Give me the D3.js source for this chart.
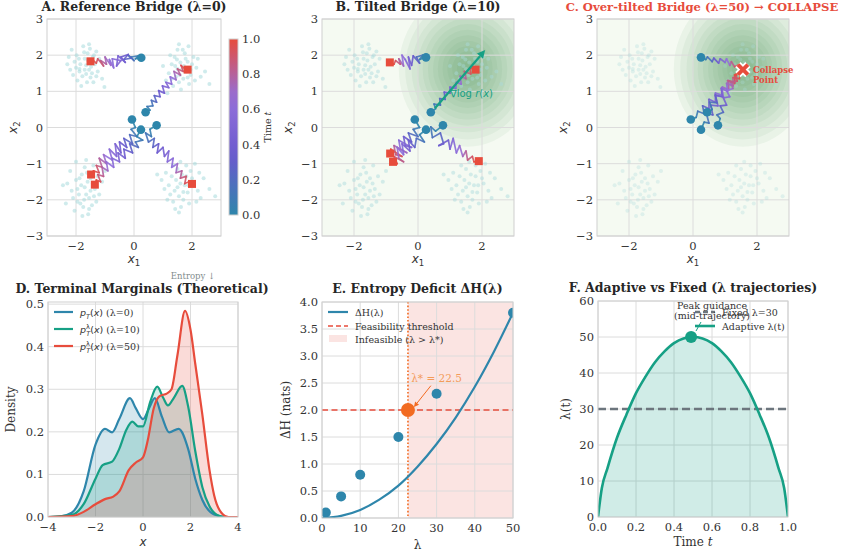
<!DOCTYPE html>
<html>
<head>
<meta charset="utf-8">
<script src="https://cdn.jsdelivr.net/npm/d3@7"></script>
<style>
  html, body { margin: 0; padding: 0; background: #fff; }
  text { fill: #333; }
</style>
</head>
<body>
<script>
//----- DATA ---------------------------------------------//
var clusterTL = [[-1.65,1.72],[-1.42,1.95],[-1.88,1.55],[-1.5,1.38],[-2.05,1.82],[-1.3,2.1],[-1.75,2.25],[-1.95,1.3],[-1.55,1.6],[-1.7,1.9],[-2.2,1.6],[-1.35,1.75],[-1.6,2.05],[-1.85,1.75],[-1.45,1.5],[-2.1,1.45],[-1.25,1.55],[-1.78,1.42],[-1.62,1.25],[-1.98,2.0],[-1.52,2.18],[-1.2,1.9],[-2.3,1.75],[-1.7,1.6],[-1.4,1.25],[-1.9,1.9],[-1.58,1.85],[-1.1,1.35],[-2.15,2.15],[-1.82,1.15],[-1.48,1.68],[-1.65,1.48],[-1.3,1.42],[-2.0,1.65],[-1.55,2.3],[-1.02,1.12],[-1.72,2.08],[-1.88,1.62],[-1.38,2.0],[-2.25,1.95]];
var clusterTR = [[1.65,1.6],[1.85,1.82],[1.45,1.4],[1.95,1.45],[1.3,1.75],[1.75,2.05],[1.55,1.25],[2.15,1.65],[1.4,1.95],[1.7,1.35],[2.05,1.95],[1.2,1.5],[1.6,1.8],[1.9,1.2],[1.5,2.15],[2.3,1.4],[1.35,1.15],[1.8,1.55],[1.58,1.45],[2.0,1.75],[1.25,2.0],[1.72,1.7],[2.45,1.55],[1.1,1.3],[1.5,1.62],[1.88,2.25],[1.62,1.05],[2.2,1.9],[1.42,1.7],[1.95,1.6],[1.0,1.7],[1.78,1.9],[2.6,1.2],[1.55,2.3],[1.3,1.35],[2.1,1.3],[1.68,2.15],[1.15,0.95],[1.85,1.38],[1.48,1.88]];
var clusterBL = [[-1.7,-1.65],[-1.5,-1.4],[-1.9,-1.85],[-1.55,-1.95],[-2.0,-1.45],[-1.35,-1.7],[-1.75,-2.2],[-1.8,-1.3],[-2.15,-1.75],[-1.6,-1.5],[-1.25,-1.35],[-1.95,-2.05],[-1.45,-2.15],[-1.7,-1.1],[-2.3,-1.55],[-1.65,-1.85],[-1.4,-1.05],[-2.05,-2.3],[-1.82,-1.6],[-1.58,-2.4],[-1.2,-1.85],[-2.2,-1.2],[-1.72,-2.0],[-1.5,-1.75],[-1.88,-1.4],[-2.45,-1.6],[-1.3,-2.05],[-1.62,-1.25],[-1.95,-1.7],[-1.1,-1.5],[-1.78,-2.45],[-2.1,-1.95],[-1.42,-1.55],[-1.65,-0.9],[-2.0,-0.95],[-1.55,-2.25],[-1.85,-2.1],[-1.0,-1.2],[-2.35,-2.1],[-1.38,-1.9]];
var clusterBR = [[1.6,-1.55],[1.8,-1.35],[1.4,-1.75],[1.85,-1.8],[1.3,-1.35],[1.7,-2.0],[2.05,-1.55],[1.5,-1.15],[1.2,-1.6],[1.95,-1.2],[1.55,-1.9],[2.2,-1.75],[1.35,-2.05],[1.75,-1.6],[1.1,-1.25],[2.4,-1.4],[1.65,-1.3],[1.9,-2.1],[1.45,-1.45],[2.1,-1.0],[1.25,-1.85],[1.62,-2.2],[2.3,-1.95],[0.95,-1.45],[1.8,-1.05],[1.5,-1.65],[2.0,-1.4],[1.35,-1.05],[2.6,-1.7],[1.7,-1.78],[1.05,-1.7],[1.88,-1.6],[2.15,-2.05],[1.42,-2.25],[2.8,-1.9],[1.6,-0.95],[1.15,-2.0],[2.25,-1.25],[1.55,-2.35],[0.8,-1.3]];

var trajA = [
  [[0.25,1.93],[0.05,1.9],[0.15,1.98],[-0.1,1.95],[0.0,1.85],[-0.2,2.0],[-0.1,1.92],[-0.35,1.88],[-0.2,2.02],[-0.45,1.95],[-0.3,1.8],[-0.55,1.98],[-0.6,1.7],[-0.45,1.85],[-0.75,1.9],[-0.7,1.65],[-0.85,1.88],[-0.8,1.72],[-1.0,1.95],[-0.95,1.75],[-1.15,1.85],[-1.05,1.7],[-1.25,1.9],[-1.3,1.78],[-1.4,1.85],[-1.5,1.83]],
  [[0.4,0.42],[0.55,0.48],[0.45,0.58],[0.65,0.6],[0.6,0.75],[0.78,0.7],[0.7,0.88],[0.9,0.85],[0.85,1.02],[1.05,0.95],[0.98,1.15],[1.2,1.1],[1.1,1.25],[1.3,1.2],[1.25,1.4],[1.45,1.32],[1.38,1.55],[1.6,1.45],[1.5,1.62],[1.7,1.55],[1.62,1.72],[1.78,1.6],[1.85,1.6]],
  [[-0.07,0.22],[0.05,0.0],[-0.1,-0.05],[0.1,-0.25],[-0.15,-0.2],[-0.05,-0.45],[-0.35,-0.3],[-0.25,-0.55],[-0.5,-0.4],[-0.45,-0.7],[-0.65,-0.45],[-0.6,-0.8],[-0.85,-0.6],[-0.75,-0.9],[-1.05,-0.75],[-0.95,-1.0],[-1.2,-0.85],[-1.1,-1.1],[-1.3,-1.05],[-1.2,-1.25],[-1.4,-1.2],[-1.48,-1.3]],
  [[0.24,-0.06],[0.1,-0.25],[0.3,-0.35],[0.05,-0.4],[0.15,-0.55],[-0.15,-0.45],[-0.05,-0.7],[-0.35,-0.6],[-0.3,-0.85],[-0.55,-0.7],[-0.5,-0.95],[-0.75,-0.85],[-0.7,-1.1],[-0.95,-0.95],[-0.9,-1.2],[-1.1,-1.1],[-1.05,-1.35],[-1.25,-1.3],[-1.15,-1.5],[-1.3,-1.45],[-1.35,-1.58]],
  [[0.78,0.06],[0.55,-0.05],[0.6,-0.25],[0.4,-0.15],[0.5,-0.4],[0.7,-0.3],[0.65,-0.55],[0.85,-0.45],[0.8,-0.7],[1.0,-0.55],[1.05,-0.8],[1.2,-0.65],[1.15,-0.95],[1.35,-0.85],[1.3,-1.1],[1.5,-1.0],[1.45,-1.25],[1.65,-1.2],[1.6,-1.4],[1.8,-1.35],[1.75,-1.55],[1.9,-1.5],[2.0,-1.56]]
];
var trajB = [
  [[0.25,1.94],[0.05,1.88],[0.15,2.0],[-0.05,1.95],[0.05,1.78],[-0.15,1.98],[-0.2,1.72],[-0.3,1.95],[-0.25,1.62],[-0.4,1.88],[-0.5,2.0],[-0.45,1.7],[-0.6,1.9],[-0.55,1.75],[-0.7,1.85],[-0.75,1.75],[-0.88,1.8]],
  [[0.4,0.42],[0.55,0.52],[0.5,0.65],[0.7,0.62],[0.68,0.8],[0.85,0.78],[0.82,0.98],[1.0,0.95],[1.0,1.12],[1.18,1.08],[1.2,1.25],[1.35,1.2],[1.32,1.42],[1.5,1.35],[1.45,1.55],[1.65,1.48],[1.62,1.65],[1.8,1.6]],
  [[-0.1,0.22],[0.05,0.0],[-0.15,-0.05],[0.0,-0.25],[-0.3,-0.15],[-0.2,-0.4],[-0.45,-0.25],[-0.4,-0.5],[-0.2,-0.55],[-0.6,-0.35],[-0.55,-0.6],[-0.35,-0.7],[-0.75,-0.5],[-0.7,-0.75],[-0.5,-0.8],[-0.85,-0.6],[-0.87,-0.72]],
  [[0.25,-0.06],[0.05,-0.2],[0.2,-0.4],[-0.05,-0.3],[-0.1,-0.55],[-0.3,-0.35],[-0.25,-0.65],[-0.5,-0.45],[-0.45,-0.75],[-0.65,-0.55],[-0.6,-0.85],[-0.45,-0.95],[-0.75,-0.8],[-0.65,-1.0],[-0.78,-0.95]],
  [[0.78,0.06],[0.55,-0.1],[0.4,0.02],[0.45,-0.28],[0.7,-0.15],[0.8,-0.45],[0.65,-0.5],[0.95,-0.35],[1.0,-0.6],[1.1,-0.3],[1.2,-0.7],[1.3,-0.5],[1.4,-0.8],[1.5,-0.65],[1.55,-0.9],[1.7,-0.8],[1.75,-0.95],[1.9,-0.93]]
];
var trajC = [
  [[0.25,1.94],[0.4,1.88],[0.45,1.95],[0.6,1.82],[0.65,1.92],[0.8,1.78],[0.85,1.9],[1.0,1.8],[1.05,1.9],[1.15,1.72],[1.2,1.82],[1.3,1.68],[1.4,1.72],[1.5,1.6]],
  [[-0.07,0.22],[0.1,0.28],[0.15,0.45],[0.35,0.38],[0.3,0.6],[0.5,0.52],[0.5,0.78],[0.7,0.7],[0.7,0.95],[0.9,0.9],[0.92,1.12],[1.1,1.05],[1.12,1.3],[1.3,1.25],[1.32,1.45],[1.5,1.55]],
  [[0.25,-0.06],[0.35,0.15],[0.5,0.12],[0.42,0.38],[0.62,0.35],[0.55,0.62],[0.78,0.6],[0.7,0.88],[0.95,0.85],[0.9,1.1],[1.12,1.05],[1.08,1.3],[1.3,1.22],[1.3,1.45],[1.5,1.55]],
  [[0.44,0.42],[0.6,0.5],[0.52,0.7],[0.75,0.68],[0.7,0.9],[0.92,0.85],[0.88,1.08],[1.08,1.0],[1.05,1.22],[1.25,1.15],[1.25,1.38],[1.45,1.35],[1.5,1.55]],
  [[0.78,0.06],[0.85,0.25],[0.75,0.35],[0.95,0.42],[0.85,0.6],[1.05,0.62],[0.95,0.82],[1.15,0.85],[1.05,1.02],[1.25,1.08],[1.18,1.25],[1.38,1.28],[1.35,1.45],[1.5,1.55]]
];
var rewardCenter = [1.55, 1.62];
var rewardRadii = [2.15, 1.95, 1.75, 1.57, 1.4, 1.24, 1.08, 0.93, 0.78, 0.63, 0.48, 0.33, 0.18];
var gradArrow = [[0.53, 0.53], [2.1, 2.14]];
var collapsePoint = [1.56, 1.6];

// panel D: terminal marginals
var densBlue = [[-4,0],[-3.5,0.001],[-3,0.01],[-2.5,0.06],[-2,0.17],[-1.6,0.207],[-1.3,0.199],[-1,0.23],[-0.55,0.279],[-0.3,0.255],[0,0.23],[0.25,0.255],[0.5,0.279],[0.8,0.235],[1.1,0.199],[1.5,0.207],[1.9,0.16],[2.2,0.09],[2.5,0.04],[3,0.006],[3.5,0],[4,0]];
var densGreen = [[-4,0],[-3,0.005],[-2.5,0.03],[-2,0.09],[-1.7,0.122],[-1.3,0.13],[-1,0.16],[-0.7,0.205],[-0.45,0.224],[-0.2,0.213],[0,0.213],[0.3,0.27],[0.6,0.306],[0.85,0.28],[1.05,0.262],[1.3,0.28],[1.65,0.308],[1.9,0.26],[2.2,0.155],[2.5,0.07],[2.8,0.025],[3.2,0.003],[3.5,0],[4,0]];
var densRed = [[-4,0],[-3,0.002],[-2.5,0.012],[-2,0.03],[-1.6,0.042],[-1.25,0.048],[-1,0.06],[-0.6,0.11],[-0.3,0.128],[0,0.14],[0.2,0.18],[0.45,0.255],[0.7,0.284],[1.0,0.29],[1.2,0.3],[1.45,0.38],[1.77,0.484],[2.0,0.44],[2.2,0.36],[2.5,0.24],[2.8,0.11],[3.0,0.05],[3.3,0.01],[3.6,0],[4,0]];

// panel E: entropy deficit
var lambdaGrid = [0, 5, 10, 15, 20, 25, 30, 35, 40, 45, 50];
var deltaHCurve = [0, 0.04, 0.15, 0.34, 0.6, 0.95, 1.37, 1.86, 2.43, 3.08, 3.8];
var lambdaSamples = [1, 5, 10, 20, 30, 50];
var deltaHSamples = [0.1, 0.4, 0.8, 1.5, 2.3, 3.8];
var lambdaStar = 22.5;
var threshold = 2.0;

// panel F: adaptive vs fixed
var timeGrid = [0, 0.02, 0.05, 0.1, 0.15, 0.2, 0.25, 0.3, 0.35, 0.4, 0.45, 0.5, 0.55, 0.6, 0.65, 0.7, 0.75, 0.8, 0.85, 0.9, 0.95, 0.98, 1];
var lambdaAdaptive = [0, 8, 13.6, 22, 28.5, 34.4, 39, 43, 46, 48.3, 49.6, 50, 49.6, 48.3, 46, 43, 39, 34.4, 28.5, 22, 13.6, 8, 0];
var lambdaFixed = 30;
var peakPoint = [0.49, 50];

//----- SETTINGS -----------------------------------------//
var W = 842, H = 554,
    SERIF = '"DejaVu Serif", serif',
    SANS = '"DejaVu Sans", sans-serif',
    BLUE = '#2E86AB', TEAL = '#16A085', RED = '#E74C3C', ORANGE = '#F26B21',
    GRID = '#dcdcdc', SPINE = '#cfcfcf', DOT = '#a8dadc',
    TICK_SIZE = 11.5, TITLE_SIZE = 12.5;

var cmap = d3.scaleLinear()
    .domain([0, 1/3, 2/3, 1])
    .range(['#2E86AB', '#6A5ACD', '#9370DB', '#E74C3C']);

var svg = d3.select('body').append('svg')
    .attr('width', W).attr('height', H)
    .style('font-family', SERIF);
svg.append('rect').attr('width', W).attr('height', H).attr('fill', '#fff');

var defs = svg.append('defs');

//----- GENERIC AXES -------------------------------------//
function makeAxes(id, box, xdom, ydom, xticks, yticks, fx, fy, bg) {
    var x = d3.scaleLinear().domain(xdom).range([box.l, box.r]);
    var y = d3.scaleLinear().domain(ydom).range([box.b, box.t]);
    var g = svg.append('g');
    defs.append('clipPath').attr('id', 'clip' + id)
        .append('rect').attr('x', box.l).attr('y', box.t)
        .attr('width', box.r - box.l).attr('height', box.b - box.t);
    g.append('rect').attr('x', box.l).attr('y', box.t)
        .attr('width', box.r - box.l).attr('height', box.b - box.t)
        .attr('fill', bg || '#fff');
    var under = g.append('g').attr('clip-path', 'url(#clip' + id + ')');
    var grid = g.append('g');
    grid.selectAll('.gx').data(xticks).enter().append('line')
        .attr('x1', x).attr('x2', x).attr('y1', box.t).attr('y2', box.b)
        .attr('stroke', GRID).attr('stroke-width', 1);
    grid.selectAll('.gy').data(yticks).enter().append('line')
        .attr('y1', y).attr('y2', y).attr('x1', box.l).attr('x2', box.r)
        .attr('stroke', GRID).attr('stroke-width', 1);
    var plot = g.append('g').attr('clip-path', 'url(#clip' + id + ')');
    var top = g.append('g');
    top.append('rect').attr('x', box.l).attr('y', box.t)
        .attr('width', box.r - box.l).attr('height', box.b - box.t)
        .attr('fill', 'none').attr('stroke', SPINE).attr('stroke-width', 1);
    top.selectAll('.tx').data(xticks).enter().append('text')
        .attr('x', x).attr('y', box.b + 14)
        .attr('text-anchor', 'middle').attr('font-size', TICK_SIZE)
        .text(fx);
    top.selectAll('.ty').data(yticks).enter().append('text')
        .attr('x', box.l - 4).attr('y', function (d) { return y(d) + 4; })
        .attr('text-anchor', 'end').attr('font-size', TICK_SIZE)
        .text(fy);
    return { g: g, under: under, plot: plot, top: top, x: x, y: y, box: box };
}

function title(ax, txt, color, cx, size, gap) {
    ax.top.append('text')
        .attr('x', cx != null ? cx : (ax.box.l + ax.box.r) / 2)
        .attr('y', ax.box.t - (gap || 8))
        .attr('text-anchor', 'middle').attr('font-size', size || TITLE_SIZE)
        .attr('font-weight', 'bold')
        .style('fill', color || '#262626')
        .text(txt);
}

function ylabel(ax, xpos, build) {
    var cy = (ax.box.t + ax.box.b) / 2;
    var t = ax.top.append('text')
        .attr('transform', 'translate(' + xpos + ',' + cy + ') rotate(-90)')
        .attr('text-anchor', 'middle').attr('font-size', 12);
    build(t);
}

function xlabel(ax, ypos, build) {
    var t = ax.top.append('text')
        .attr('x', (ax.box.l + ax.box.r) / 2).attr('y', ypos)
        .attr('text-anchor', 'middle').attr('font-size', 12);
    build(t);
}

function subLabel(t, base, sub) {
    t.append('tspan').attr('font-family', SANS).attr('font-style', 'italic').text(base);
    t.append('tspan').attr('font-family', SANS).attr('font-size', 8.5).attr('dy', 3).text(sub);
}

var fmtInt = d3.format('d'), fmt1 = d3.format('.1f');

//----- TOP ROW: BRIDGE PANELS ---------------------------//
var clusters = [clusterTL, clusterTR, clusterBL, clusterBR];
var allDots = [].concat.apply([], clusters);
var bridgeTicksX = [-2, 0, 2], bridgeTicksY = [-3, -2, -1, 0, 1, 2, 3];

function drawBridge(id, box, trajs, dotOpacity, tilted, showEnds) {
    var ax = makeAxes(id, box, [-3, 3], [-3, 3], bridgeTicksX, bridgeTicksY,
        fmtInt, fmtInt, tilted ? '#f5faf2' : '#fff');
    if (tilted) {
        var ux = ax.x(1) - ax.x(0), uy = ax.y(0) - ax.y(1);
        ax.under.selectAll('ellipse').data(rewardRadii).enter().append('ellipse')
            .attr('cx', ax.x(rewardCenter[0])).attr('cy', ax.y(rewardCenter[1]))
            .attr('rx', function (r) { return r * ux; })
            .attr('ry', function (r) { return r * uy; })
            .attr('fill', '#3d8f55').attr('fill-opacity', 0.062);
    }
    ax.plot.selectAll('.dot').data(allDots).enter().append('circle')
        .attr('cx', function (d) { return ax.x(d[0]); })
        .attr('cy', function (d) { return ax.y(d[1]); })
        .attr('r', 2).attr('fill', DOT).attr('fill-opacity', dotOpacity);
    trajs.forEach(function (pts) {
        var n = pts.length;
        for (var i = 0; i < n - 1; i++) {
            ax.plot.append('line')
                .attr('x1', ax.x(pts[i][0])).attr('y1', ax.y(pts[i][1]))
                .attr('x2', ax.x(pts[i + 1][0])).attr('y2', ax.y(pts[i + 1][1]))
                .attr('stroke', cmap(i / (n - 2))).attr('stroke-width', 1.7)
                .attr('stroke-opacity', 0.9).attr('stroke-linecap', 'round');
        }
    });
    trajs.forEach(function (pts) {
        var s = pts[0], e = pts[pts.length - 1];
        ax.plot.append('circle').attr('cx', ax.x(s[0])).attr('cy', ax.y(s[1]))
            .attr('r', 4.3).attr('fill', BLUE);
        if (showEnds) {
            ax.plot.append('rect').attr('x', ax.x(e[0]) - 4).attr('y', ax.y(e[1]) - 4)
                .attr('width', 8).attr('height', 8).attr('fill', RED);
        }
    });
    ylabel(ax, box.l - 30, function (t) { subLabel(t, 'x', '2'); });
    xlabel(ax, box.b + 27, function (t) { subLabel(t, 'x', '1'); });
    return ax;
}

var axA = drawBridge('A', { l: 47, r: 221, t: 19, b: 236 }, trajA, 0.55, false, true);
title(axA, 'A. Reference Bridge (λ=0)');

// colorbar
var cb = { l: 229, r: 238, t: 39, b: 215 };
var grad = defs.append('linearGradient').attr('id', 'cbgrad')
    .attr('x1', 0).attr('y1', 1).attr('x2', 0).attr('y2', 0);
d3.range(0, 1.0001, 0.1).forEach(function (v) {
    grad.append('stop').attr('offset', v).attr('stop-color', cmap(v));
});
var cbScale = d3.scaleLinear().domain([0, 1]).range([cb.b, cb.t]);
svg.append('rect').attr('x', cb.l).attr('y', cb.t)
    .attr('width', cb.r - cb.l).attr('height', cb.b - cb.t)
    .attr('fill', 'url(#cbgrad)').attr('stroke', '#cfcfcf');
svg.selectAll('.cbt').data([0, 0.2, 0.4, 0.6, 0.8, 1.0]).enter().append('text')
    .attr('x', cb.r + 4).attr('y', function (d) { return cbScale(d) + 4; })
    .attr('font-size', TICK_SIZE).text(fmt1);
var cbl = svg.append('text')
    .attr('transform', 'translate(271,' + ((cb.t + cb.b) / 2) + ') rotate(-90)')
    .attr('text-anchor', 'middle').attr('font-size', 9.5);
cbl.append('tspan').text('Time ');
cbl.append('tspan').attr('font-style', 'italic').text('t');

var axB = drawBridge('B', { l: 322, r: 514, t: 19, b: 236 }, trajB, 0.45, true, true);
title(axB, 'B. Tilted Bridge (λ=10)');
(function () {
    var p0 = [axB.x(gradArrow[0][0]), axB.y(gradArrow[0][1])];
    var p1 = [axB.x(gradArrow[1][0]), axB.y(gradArrow[1][1])];
    var ang = Math.atan2(p1[1] - p0[1], p1[0] - p0[0]);
    var hl = 8, hw = 4;
    var bx = p1[0] - hl * Math.cos(ang), by = p1[1] - hl * Math.sin(ang);
    axB.top.append('line').attr('x1', p0[0]).attr('y1', p0[1]).attr('x2', bx).attr('y2', by)
        .attr('stroke', TEAL).attr('stroke-width', 2.2);
    axB.top.append('path')
        .attr('d', 'M' + p1 + 'L' + [bx + hw * Math.sin(ang), by - hw * Math.cos(ang)] +
            'L' + [bx - hw * Math.sin(ang), by + hw * Math.cos(ang)] + 'Z')
        .attr('fill', TEAL);
    var t = axB.top.append('text').attr('x', axB.x(1.0)).attr('y', axB.y(0.85))
        .attr('font-size', 10).attr('font-family', SANS).style('fill', TEAL);
    t.append('tspan').text('∇log ');
    t.append('tspan').attr('font-style', 'italic').text('r');
    t.append('tspan').text('(');
    t.append('tspan').attr('font-style', 'italic').text('x');
    t.append('tspan').text(')');
})();

var axC = drawBridge('C', { l: 597, r: 789, t: 19, b: 236 }, trajC, 0.3, true, false);
title(axC, 'C. Over-tilted Bridge (λ=50) → COLLAPSE', RED, 702, 11.6);
(function () {
    var cx = axC.x(collapsePoint[0]), cy = axC.y(collapsePoint[1]), s = 5;
    var d = 'M' + (cx - s) + ',' + (cy - s) + 'L' + (cx + s) + ',' + (cy + s) +
        'M' + (cx - s) + ',' + (cy + s) + 'L' + (cx + s) + ',' + (cy - s);
    axC.top.append('path').attr('d', d).attr('stroke', '#fff').attr('stroke-width', 7.5);
    axC.top.append('path').attr('d', d).attr('stroke', RED).attr('stroke-width', 3.8);
    var t = axC.top.append('text').attr('font-size', 8.5).attr('font-weight', 'bold')
        .style('fill', RED);
    t.append('tspan').attr('x', cx + 10).attr('y', cy + 3).text('Collapse');
    t.append('tspan').attr('x', cx + 10).attr('y', cy + 13).text('Point');
})();

//----- D. TERMINAL MARGINALS ----------------------------//
var axD = makeAxes('D', { l: 48, r: 238, t: 302, b: 517 }, [-4, 4], [0, 0.505],
    [-4, -2, 0, 2, 4], [0, 0.1, 0.2, 0.3, 0.4, 0.5], fmtInt, fmt1);
title(axD, 'D. Terminal Marginals (Theoretical)', null, 142, null, 9);
axD.top.append('text').attr('x', 193).attr('y', 279).attr('text-anchor', 'middle')
    .attr('font-size', 8.5).style('fill', '#7f8c8d').text('Entropy ↓');
var dSeries = [[densBlue, BLUE], [densGreen, TEAL], [densRed, RED]];
dSeries.forEach(function (s) {
    var area = d3.area().curve(d3.curveMonotoneX)
        .x(function (d) { return axD.x(d[0]); })
        .y0(axD.y(0)).y1(function (d) { return axD.y(d[1]); });
    axD.plot.append('path').attr('d', area(s[0])).attr('fill', s[1]).attr('fill-opacity', 0.2);
});
dSeries.forEach(function (s) {
    var line = d3.line().curve(d3.curveMonotoneX)
        .x(function (d) { return axD.x(d[0]); })
        .y(function (d) { return axD.y(d[1]); });
    axD.plot.append('path').attr('d', line(s[0])).attr('fill', 'none')
        .attr('stroke', s[1]).attr('stroke-width', 2.2);
});
ylabel(axD, 15, function (t) { t.text('Density'); });
xlabel(axD, 546, function (t) { t.attr('font-family', SANS).attr('font-style', 'italic').text('x'); });
(function () {
    var rows = [[BLUE, false, ' (λ=0)'], [TEAL, true, ' (λ=10)'], [RED, true, ' (λ=50)']];
    rows.forEach(function (r, i) {
        var yy = 312 + i * 17;
        axD.top.append('line').attr('x1', 54).attr('x2', 73).attr('y1', yy).attr('y2', yy)
            .attr('stroke', r[0]).attr('stroke-width', 2.2);
        var t = axD.top.append('text').attr('x', 80).attr('y', yy + 3.5).attr('font-size', 9.5);
        t.append('tspan').attr('font-family', SANS).attr('font-style', 'italic').text('p');
        if (r[1]) {
            t.append('tspan').attr('font-family', SANS).attr('font-size', 6.5).attr('dy', -4).text('λ');
            t.append('tspan').attr('font-family', SANS).attr('font-style', 'italic')
                .attr('font-size', 6.5).attr('dx', -3.6).attr('dy', 7).text('T');
            t.append('tspan').attr('font-family', SANS).attr('dy', -3).text('(');
        } else {
            t.append('tspan').attr('font-family', SANS).attr('font-style', 'italic')
                .attr('font-size', 6.5).attr('dy', 3).text('T');
            t.append('tspan').attr('font-family', SANS).attr('dy', -3).text('(');
        }
        t.append('tspan').attr('font-family', SANS).attr('font-style', 'italic').text('x');
        t.append('tspan').attr('font-family', SANS).text(')');
        t.append('tspan').text(r[2]);
    });
})();

//----- E. ENTROPY DEFICIT -------------------------------//
var axE = makeAxes('E', { l: 322, r: 513, t: 302, b: 518 }, [0, 50], [0, 4],
    [0, 10, 20, 30, 40, 50], [0, 0.5, 1, 1.5, 2, 2.5, 3, 3.5, 4], fmtInt, fmt1);
title(axE, 'E. Entropy Deficit ΔH(λ)', null, null, null, 9);
axE.under.append('rect').attr('x', axE.x(lambdaStar)).attr('y', axE.box.t)
    .attr('width', axE.x(50) - axE.x(lambdaStar)).attr('height', axE.box.b - axE.box.t)
    .attr('fill', RED).attr('fill-opacity', 0.15);
axE.plot.append('line').attr('x1', axE.box.l).attr('x2', axE.box.r)
    .attr('y1', axE.y(threshold)).attr('y2', axE.y(threshold))
    .attr('stroke', RED).attr('stroke-width', 1.5).attr('stroke-dasharray', '6,3.5');
axE.plot.append('line').attr('x1', axE.x(lambdaStar)).attr('x2', axE.x(lambdaStar))
    .attr('y1', axE.box.t).attr('y2', axE.box.b)
    .attr('stroke', ORANGE).attr('stroke-width', 1.6).attr('stroke-dasharray', '1.6,2');
axE.plot.append('path')
    .attr('d', d3.line().curve(d3.curveMonotoneX)
        .x(function (d, i) { return axE.x(lambdaGrid[i]); })
        .y(function (d) { return axE.y(d); })(deltaHCurve))
    .attr('fill', 'none').attr('stroke', BLUE).attr('stroke-width', 2.2);
axE.plot.selectAll('.pt').data(lambdaSamples).enter().append('circle')
    .attr('cx', function (d) { return axE.x(d); })
    .attr('cy', function (d, i) { return axE.y(deltaHSamples[i]); })
    .attr('r', 5).attr('fill', BLUE);
axE.top.append('circle').attr('cx', axE.x(lambdaStar)).attr('cy', axE.y(threshold))
    .attr('r', 7).attr('fill', ORANGE);
(function () {
    var x0 = axE.x(28.5), y0 = axE.y(2.45), x1 = axE.x(lambdaStar) + 6, y1 = axE.y(threshold) - 3;
    var ang = Math.atan2(y1 - y0, x1 - x0), hl = 5, hw = 2.5;
    var bx = x1 - hl * Math.cos(ang), by = y1 - hl * Math.sin(ang);
    axE.top.append('line').attr('x1', x0).attr('y1', y0).attr('x2', bx).attr('y2', by)
        .attr('stroke', ORANGE).attr('stroke-width', 1);
    axE.top.append('path')
        .attr('d', 'M' + [x1, y1] + 'L' + [bx + hw * Math.sin(ang), by - hw * Math.cos(ang)] +
            'L' + [bx - hw * Math.sin(ang), by + hw * Math.cos(ang)] + 'Z')
        .attr('fill', ORANGE);
    axE.top.append('text').attr('x', axE.x(30)).attr('y', axE.y(2.52))
        .attr('text-anchor', 'middle').attr('font-size', 10.5)
        .style('fill', '#f39c5a').text('λ* = ' + lambdaStar);
})();
ylabel(axE, 290, function (t) { t.text('ΔH (nats)'); });
xlabel(axE, 549, function (t) { t.text('λ'); });
(function () {
    var lx = 328, yy = [312, 326, 339];
    axE.top.append('line').attr('x1', lx).attr('x2', lx + 20).attr('y1', yy[0]).attr('y2', yy[0])
        .attr('stroke', BLUE).attr('stroke-width', 2.2);
    axE.top.append('line').attr('x1', lx).attr('x2', lx + 20).attr('y1', yy[1]).attr('y2', yy[1])
        .attr('stroke', RED).attr('stroke-width', 1.5).attr('stroke-dasharray', '5,3');
    axE.top.append('rect').attr('x', lx + 1).attr('y', yy[2] - 4).attr('width', 18).attr('height', 7)
        .attr('fill', RED).attr('fill-opacity', 0.15);
    ['ΔH(λ)', 'Feasibility threshold', 'Infeasible (λ > λ*)'].forEach(function (s, i) {
        axE.top.append('text').attr('x', lx + 27).attr('y', yy[i] + 3.5)
            .attr('font-size', 9.5).text(s);
    });
})();

//----- F. ADAPTIVE VS FIXED -----------------------------//
var axF = makeAxes('F', { l: 598, r: 788, t: 301, b: 517 }, [0, 1], [0, 60],
    [0, 0.2, 0.4, 0.6, 0.8, 1.0], [0, 10, 20, 30, 40, 50, 60], fmt1, fmtInt);
title(axF, 'F. Adaptive vs Fixed (λ trajectories)', null, 693, null, 9);
axF.plot.append('path')
    .attr('d', d3.area().curve(d3.curveMonotoneX)
        .x(function (d, i) { return axF.x(timeGrid[i]); })
        .y0(axF.y(0)).y1(function (d) { return axF.y(d); })(lambdaAdaptive))
    .attr('fill', TEAL).attr('fill-opacity', 0.2);
axF.plot.append('line').attr('x1', axF.box.l).attr('x2', axF.box.r)
    .attr('y1', axF.y(lambdaFixed)).attr('y2', axF.y(lambdaFixed))
    .attr('stroke', '#6c757d').attr('stroke-width', 2.6).attr('stroke-dasharray', '8,4');
axF.plot.append('path')
    .attr('d', d3.line().curve(d3.curveMonotoneX)
        .x(function (d, i) { return axF.x(timeGrid[i]); })
        .y(function (d) { return axF.y(d); })(lambdaAdaptive))
    .attr('fill', 'none').attr('stroke', TEAL).attr('stroke-width', 2.6);
axF.top.append('circle').attr('cx', axF.x(peakPoint[0])).attr('cy', axF.y(peakPoint[1]))
    .attr('r', 6).attr('fill', TEAL);
(function () {
    var lx = 695;
    axF.top.append('line').attr('x1', lx).attr('x2', lx + 20).attr('y1', 312).attr('y2', 312)
        .attr('stroke', '#6c757d').attr('stroke-width', 2.6).attr('stroke-dasharray', '5,3');
    axF.top.append('line').attr('x1', lx).attr('x2', lx + 20).attr('y1', 326).attr('y2', 326)
        .attr('stroke', TEAL).attr('stroke-width', 2.6);
    axF.top.append('text').attr('x', lx + 27).attr('y', 315.5).attr('font-size', 9.5).text('Fixed λ=30');
    axF.top.append('text').attr('x', lx + 27).attr('y', 329.5).attr('font-size', 9.5).text('Adaptive λ(t)');
    var t = axF.top.append('text').attr('text-anchor', 'middle').attr('font-size', 9.5);
    t.append('tspan').attr('x', 712).attr('y', 309).text('Peak guidance');
    t.append('tspan').attr('x', 712).attr('y', 319).text('(mid-trajectory)');
    axF.top.append('line').attr('x1', 701).attr('y1', 322).attr('x2', 696).attr('y2', 331)
        .attr('stroke', TEAL).attr('stroke-width', 1);
})();
ylabel(axF, 570, function (t) { t.text('λ(t)'); });
xlabel(axF, 546, function (t) {
    t.append('tspan').text('Time ');
    t.append('tspan').attr('font-style', 'italic').text('t');
});
</script>
</body>
</html>
